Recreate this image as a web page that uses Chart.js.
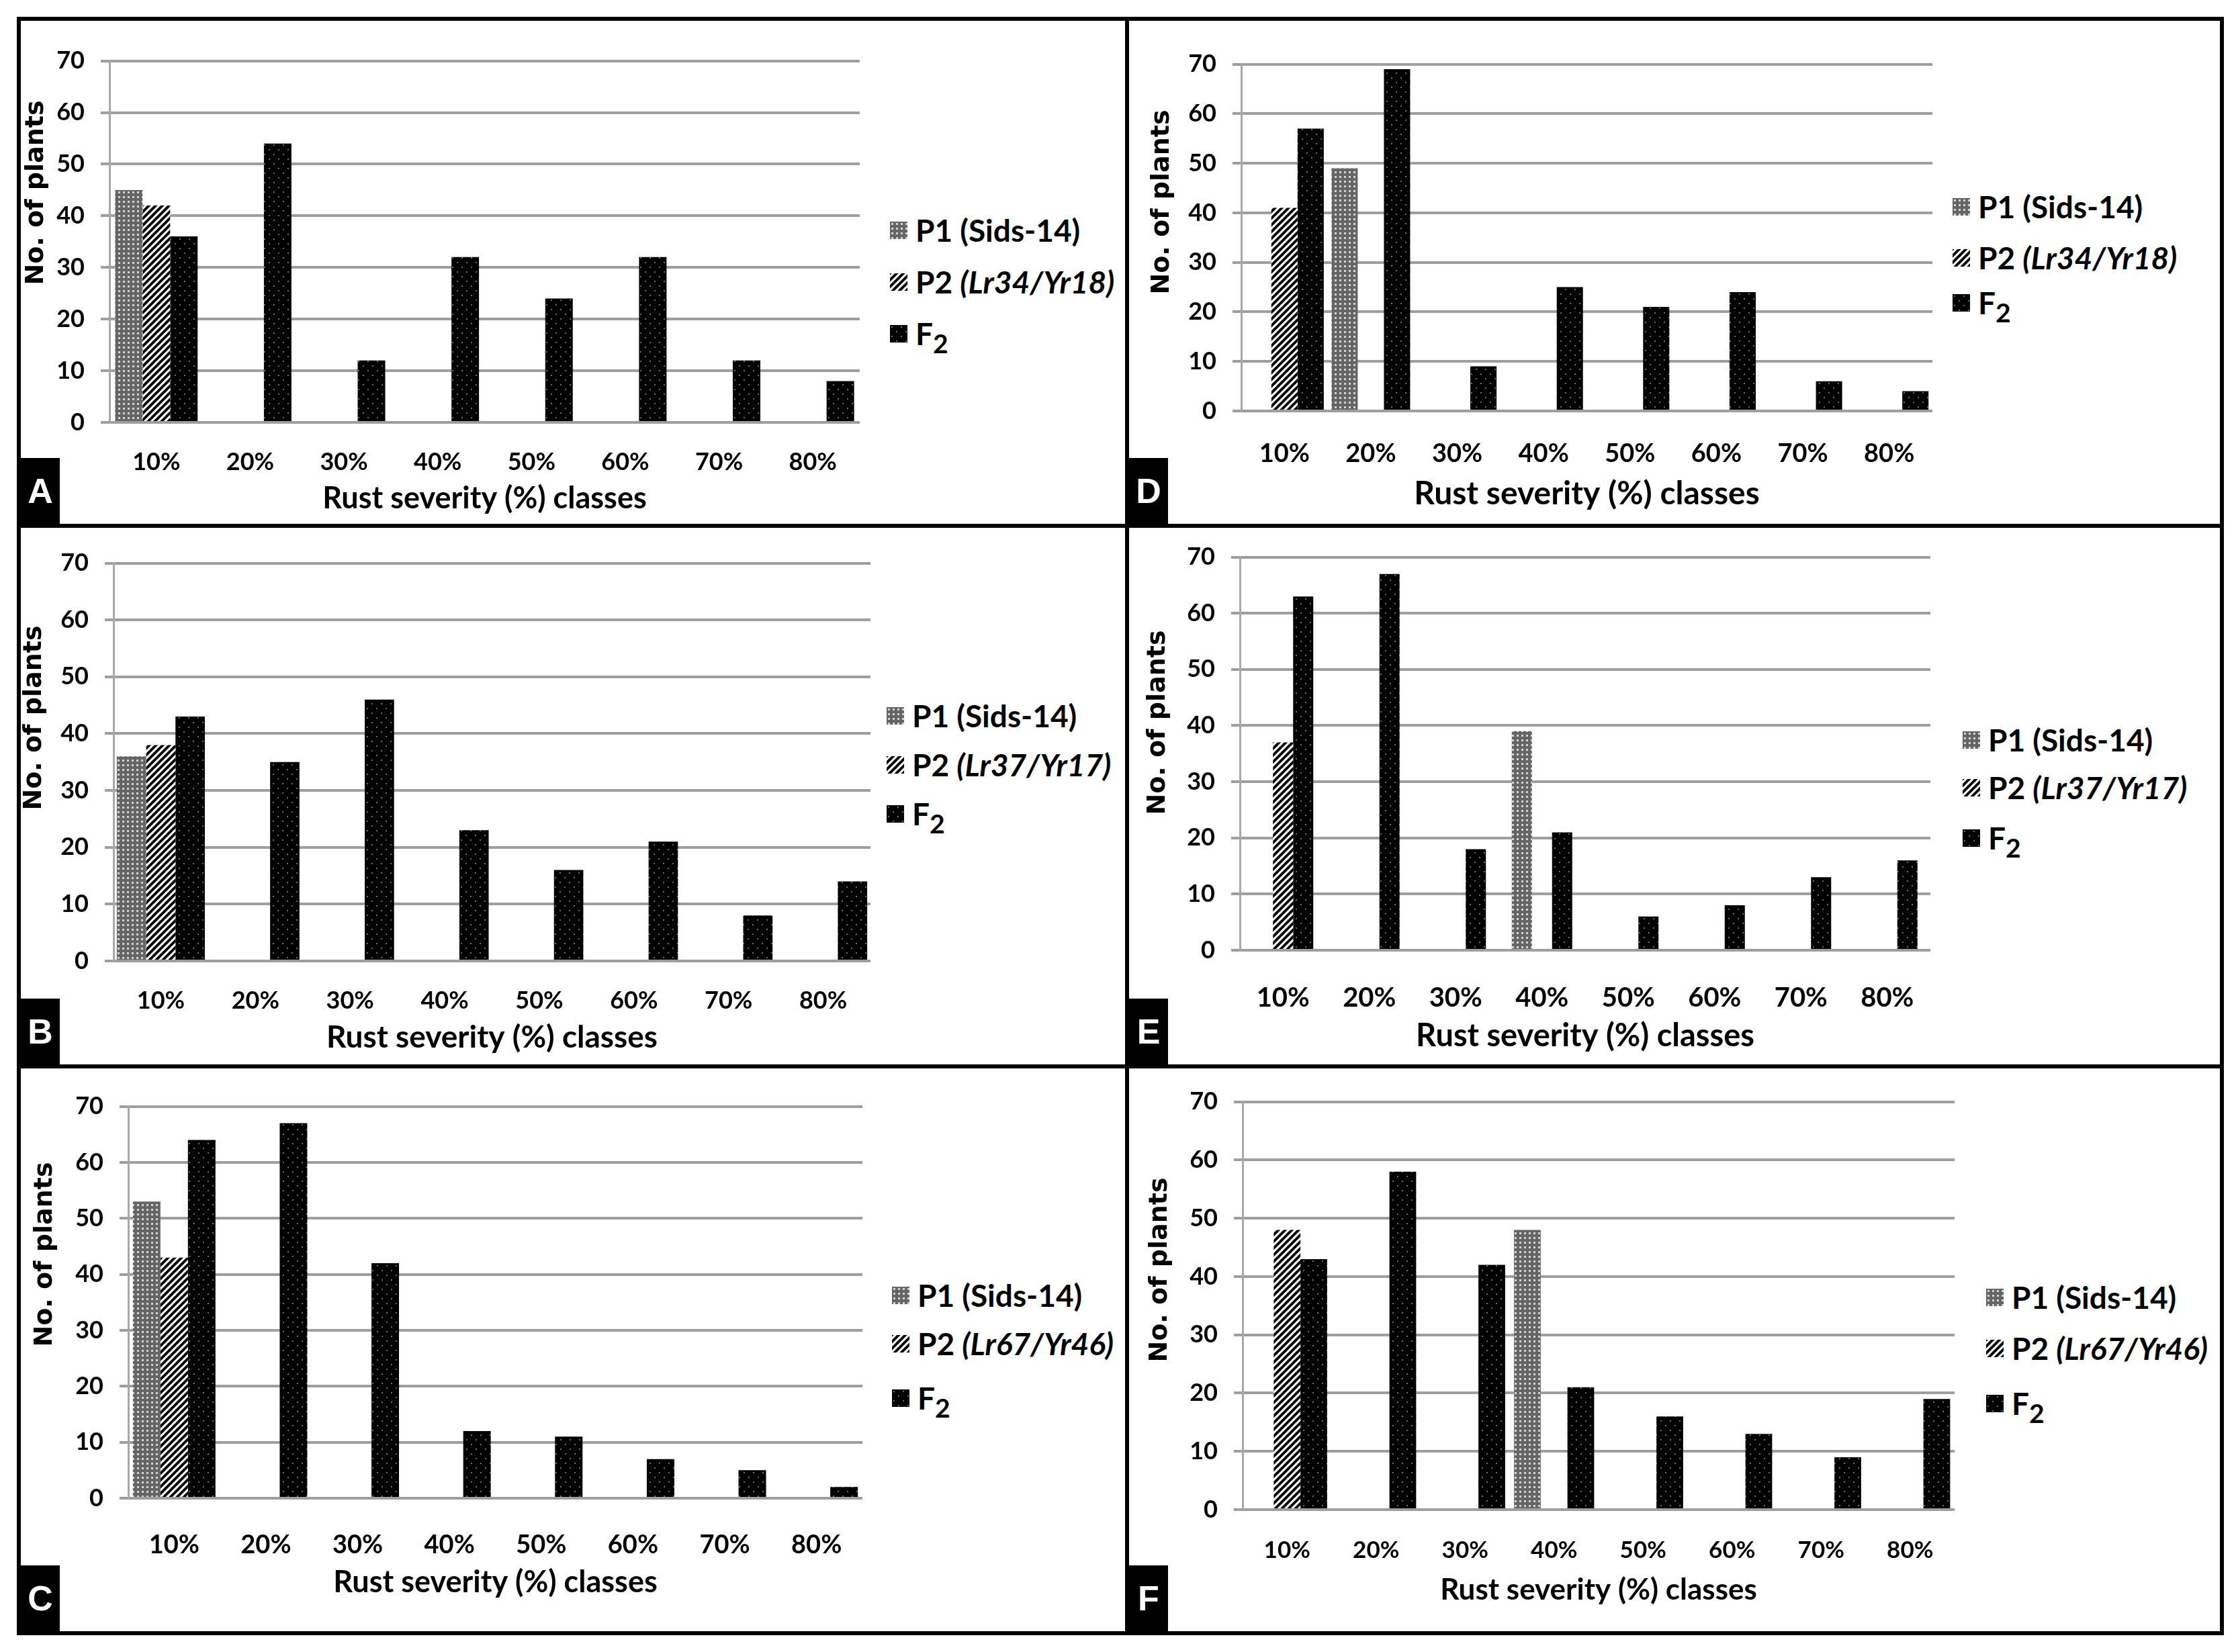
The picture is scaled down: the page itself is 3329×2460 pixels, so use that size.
<!DOCTYPE html>
<html>
<head>
<meta charset="utf-8">
<title>Rust severity classes</title>
<script src="https://cdn.jsdelivr.net/npm/chart.js@4.4.1/dist/chart.umd.min.js"></script>
<style>
  html, body { margin: 0; padding: 0; background: #fff; }
  #page { position: relative; width: 3329px; height: 2460px; background: #fff; overflow: hidden; }
  .line { position: absolute; background: #000; }
  .holder { position: absolute; }
  .legend { position: absolute; font-family: Lato, sans-serif; font-weight: 700; color: #000; }
  .legend .item { position: absolute; left: 0; height: 50px; line-height: 50px; white-space: nowrap; display: flex; align-items: center; }
  .legend .sw { display: inline-block; width: 26px; height: 26px; margin-right: 12px; }
  .legend sub { font-size: 0.85em; vertical-align: -0.3em; line-height: 0; }
  .tag { position: absolute; width: 58px; height: 98px; background: #000; color: #fff;
         font-family: "Liberation Sans", Arial, sans-serif; font-weight: 700; font-size: 52px;
         display: flex; align-items: center; justify-content: center; }
</style>
</head>
<body>
<div id="page"></div>
<script>
// Categories and axis
const severityClasses = ['10%', '20%', '30%', '40%', '50%', '60%', '70%', '80%'];
const yMax = 70;
const yStep = 10;
const xTitle = 'Rust severity (%) classes';
const yTitle = 'No. of plants';
const p1Name = 'P1 (Sids-14)';

// A: Sids-14 x Lr34/Yr18
const aP1 = [45, 0, 0, 0, 0, 0, 0, 0];
const aP2 = [42, 0, 0, 0, 0, 0, 0, 0];
const aF2 = [36, 54, 12, 32, 24, 32, 12, 8];
// B: Sids-14 x Lr37/Yr17
const bP1 = [36, 0, 0, 0, 0, 0, 0, 0];
const bP2 = [38, 0, 0, 0, 0, 0, 0, 0];
const bF2 = [43, 35, 46, 23, 16, 21, 8, 14];
// C: Sids-14 x Lr67/Yr46
const cP1 = [53, 0, 0, 0, 0, 0, 0, 0];
const cP2 = [43, 0, 0, 0, 0, 0, 0, 0];
const cF2 = [64, 67, 42, 12, 11, 7, 5, 2];
// D: Sids-14 x Lr34/Yr18
const dP1 = [0, 49, 0, 0, 0, 0, 0, 0];
const dP2 = [41, 0, 0, 0, 0, 0, 0, 0];
const dF2 = [57, 69, 9, 25, 21, 24, 6, 4];
// E: Sids-14 x Lr37/Yr17
const eP1 = [0, 0, 0, 39, 0, 0, 0, 0];
const eP2 = [37, 0, 0, 0, 0, 0, 0, 0];
const eF2 = [63, 67, 18, 21, 6, 8, 13, 16];
// F: Sids-14 x Lr67/Yr46
const fP1 = [0, 0, 0, 48, 0, 0, 0, 0];
const fP2 = [48, 0, 0, 0, 0, 0, 0, 0];
const fF2 = [43, 58, 42, 21, 16, 13, 9, 19];

// Layout of the six panels (page pixels)
const panels = [
  { tag: 'A', gene: 'Lr34/Yr18', p1: aP1, p2: aP2, f2: aF2,
    axisX: 163, gridRight: 1280, y70: 75, y0: 629, xLabelY: 681, xTitleY: 742, tickSize: 36, titleSize: 45, cat: 0.88,
    yTitleX: 54, yTitleY: 287, legX: 1325, legRows: [343, 420, 497], tagX: 31, tagY: 682 },
  { tag: 'B', gene: 'Lr37/Yr17', p1: bP1, p2: bP2, f2: bF2,
    axisX: 169, gridRight: 1296, y70: 823, y0: 1431, xLabelY: 1483, xTitleY: 1545, tickSize: 36, titleSize: 46, cat: 0.93,
    yTitleX: 51, yTitleY: 1069, legX: 1320, legRows: [1066, 1139, 1212], tagX: 31, tagY: 1487 },
  { tag: 'C', gene: 'Lr67/Yr46', p1: cP1, p2: cP2, f2: cF2,
    axisX: 191, gridRight: 1284, y70: 1632, y0: 2231, xLabelY: 2293, xTitleY: 2356, tickSize: 38, titleSize: 45, cat: 0.9,
    yTitleX: 67, yTitleY: 1868, legX: 1328, legRows: [1929, 2001, 2082], tagX: 31, tagY: 2331 },
  { tag: 'D', gene: 'Lr34/Yr18', p1: dP1, p2: dP2, f2: dF2,
    axisX: 1848, gridRight: 2877, y70: 80, y0: 612, xLabelY: 668, xTitleY: 735, tickSize: 38, titleSize: 48, cat: 0.91,
    yTitleX: 1730, yTitleY: 301, legX: 2907, legRows: [308, 384, 451], tagX: 1681, tagY: 682 },
  { tag: 'E', gene: 'Lr37/Yr17', p1: eP1, p2: eP2, f2: eF2,
    axisX: 1846, gridRight: 2879, y70: 814, y0: 1415, xLabelY: 1478, xTitleY: 1543, tickSize: 40, titleSize: 47, cat: 0.7,
    yTitleX: 1724, yTitleY: 1076, legX: 2922, legRows: [1102, 1173, 1248], tagX: 1681, tagY: 1487 },
  { tag: 'F', gene: 'Lr67/Yr46', p1: fP1, p2: fP2, f2: fF2,
    axisX: 1850, gridRight: 2910, y70: 1625, y0: 2248, xLabelY: 2301, xTitleY: 2368, tickSize: 35, titleSize: 44, cat: 0.9,
    yTitleX: 1727, yTitleY: 1891, legX: 2957, legRows: [1932, 2008, 2090], tagX: 1681, tagY: 2331 }
];

const Y_AXIS_W = 150;
const PAD_T = 30;
const PAD_R = 10;

const page = document.getElementById('page');

// Frame lines
function addLine(x, y, w, h) {
  const d = document.createElement('div');
  d.className = 'line';
  d.style.left = x + 'px'; d.style.top = y + 'px';
  d.style.width = w + 'px'; d.style.height = h + 'px';
  page.appendChild(d);
}
addLine(25, 25, 3286, 6);
addLine(25, 2429, 3286, 6);
addLine(25, 25, 6, 2410);
addLine(3305, 25, 6, 2410);
addLine(1675, 25, 6, 2410);
addLine(25, 780, 3286, 6);
addLine(25, 1585, 3286, 6);

// Fill patterns (tiles)
function tileP1() {
  const c = document.createElement('canvas'); c.width = c.height = 7;
  const g = c.getContext('2d');
  g.fillStyle = '#656565'; g.fillRect(0, 0, 7, 7);
  g.fillStyle = '#d4d4d4'; g.fillRect(2, 2, 3, 3);
  return c;
}
function tileP2() {
  const c = document.createElement('canvas'); c.width = c.height = 10;
  const g = c.getContext('2d');
  g.fillStyle = '#fff'; g.fillRect(0, 0, 10, 10);
  g.strokeStyle = '#000'; g.lineWidth = 4;
  g.beginPath();
  g.moveTo(-5, 5); g.lineTo(5, -5);
  g.moveTo(0, 10); g.lineTo(10, 0);
  g.moveTo(5, 15); g.lineTo(15, 5);
  g.stroke();
  return c;
}
function tileF2() {
  const c = document.createElement('canvas'); c.width = c.height = 14;
  const g = c.getContext('2d');
  g.fillStyle = '#000'; g.fillRect(0, 0, 14, 14);
  g.fillStyle = '#6e6e6e';
  g.fillRect(2, 2, 2, 2);
  g.fillRect(9, 9, 2, 2);
  return c;
}
const tiles = { p1: tileP1(), p2: tileP2(), f2: tileF2() };

// Y-axis title drawn off-centre, as in the original figure
const yTitlePlugin = {
  id: 'yTitle',
  afterDraw(chart, args, opts) {
    const ctx = chart.ctx;
    ctx.save();
    ctx.translate(opts.x, opts.y);
    ctx.rotate(-Math.PI / 2);
    ctx.font = 'bold 38px "DejaVu Sans"';
    ctx.fillStyle = '#000';
    ctx.textAlign = 'center';
    ctx.textBaseline = 'middle';
    ctx.fillText(opts.text, 0, 0);
    ctx.restore();
  }
};

panels.forEach(p => {
  const left = p.axisX - Y_AXIS_W;
  const top = p.y70 - PAD_T;
  const width = p.gridRight + PAD_R - left;
  const xAxisH = Math.round(p.xTitleY - p.y0 + p.titleSize * 0.6 + 4);
  const height = p.y0 + xAxisH - top;

  const holder = document.createElement('div');
  holder.className = 'holder';
  holder.style.left = left + 'px';
  holder.style.top = top + 'px';
  holder.style.width = width + 'px';
  holder.style.height = height + 'px';
  const canvas = document.createElement('canvas');
  canvas.width = width;
  canvas.height = height;
  holder.appendChild(canvas);
  page.appendChild(holder);

  const ctx = canvas.getContext('2d');
  const fillP1 = ctx.createPattern(tiles.p1, 'repeat');
  const fillP2 = ctx.createPattern(tiles.p2, 'repeat');
  const fillF2 = ctx.createPattern(tiles.f2, 'repeat');

  new Chart(canvas, {
    type: 'bar',
    data: {
      labels: severityClasses,
      datasets: [
        { label: p1Name, data: p.p1, backgroundColor: fillP1, borderWidth: 0, categoryPercentage: p.cat, barPercentage: 1 },
        { label: 'P2 (' + p.gene + ')', data: p.p2, backgroundColor: fillP2, borderWidth: 0, categoryPercentage: p.cat, barPercentage: 1 },
        { label: 'F2', data: p.f2, backgroundColor: fillF2, borderWidth: 0, categoryPercentage: p.cat, barPercentage: 1 }
      ]
    },
    options: {
      responsive: false,
      devicePixelRatio: 1,
      animation: false,
      layout: { padding: { top: PAD_T, right: PAD_R, left: 0, bottom: 0 } },
      plugins: {
        legend: { display: false },
        tooltip: { enabled: false },
        yTitle: { x: p.yTitleX - left, y: p.yTitleY - top, text: yTitle }
      },
      scales: {
        x: {
          grid: { display: false },
          border: { display: false },
          ticks: {
            color: '#000',
            maxRotation: 0,
            padding: Math.round(p.xLabelY - p.y0 - p.tickSize * 0.6),
            font: { family: 'Lato', weight: 'bold', size: p.tickSize }
          },
          title: {
            display: true,
            text: xTitle,
            color: '#000',
            padding: { top: 0, bottom: 4 },
            font: { family: 'Lato', weight: 'bold', size: p.titleSize }
          },
          afterFit: s => { s.height = xAxisH; }
        },
        y: {
          min: 0,
          max: yMax,
          grid: { color: '#9e9e9e', lineWidth: 4, tickLength: 13, tickColor: '#9e9e9e' },
          border: { display: true, color: '#a8a8a8', width: 3 },
          ticks: {
            stepSize: yStep,
            color: '#000',
            padding: 24,
            font: { family: 'Lato', weight: 'bold', size: 36 }
          },
          afterFit: s => { s.width = Y_AXIS_W; }
        }
      }
    },
    plugins: [yTitlePlugin]
  });

  // Legend
  const leg = document.createElement('div');
  leg.className = 'legend';
  leg.style.left = p.legX + 'px';
  leg.style.top = '0px';
  leg.style.fontSize = '46px';
  const items = [
    { tile: tiles.p1, html: 'P1 (Sids-14)' },
    { tile: tiles.p2, html: 'P2 <i>(' + p.gene + ')</i>' },
    { tile: tiles.f2, html: 'F<sub>2</sub>' }
  ];
  items.forEach((it, i) => {
    const row = document.createElement('div');
    row.className = 'item';
    row.style.top = (p.legRows[i] - 25) + 'px';
    const sw = document.createElement('span');
    sw.className = 'sw';
    sw.style.backgroundImage = 'url(' + it.tile.toDataURL() + ')';
    const txt = document.createElement('span');
    txt.innerHTML = it.html;
    row.appendChild(sw);
    row.appendChild(txt);
    leg.appendChild(row);
  });
  page.appendChild(leg);

  // Panel letter
  const tg = document.createElement('div');
  tg.className = 'tag';
  tg.style.left = p.tagX + 'px';
  tg.style.top = p.tagY + 'px';
  tg.textContent = p.tag;
  page.appendChild(tg);
});
</script>
</body>
</html>
